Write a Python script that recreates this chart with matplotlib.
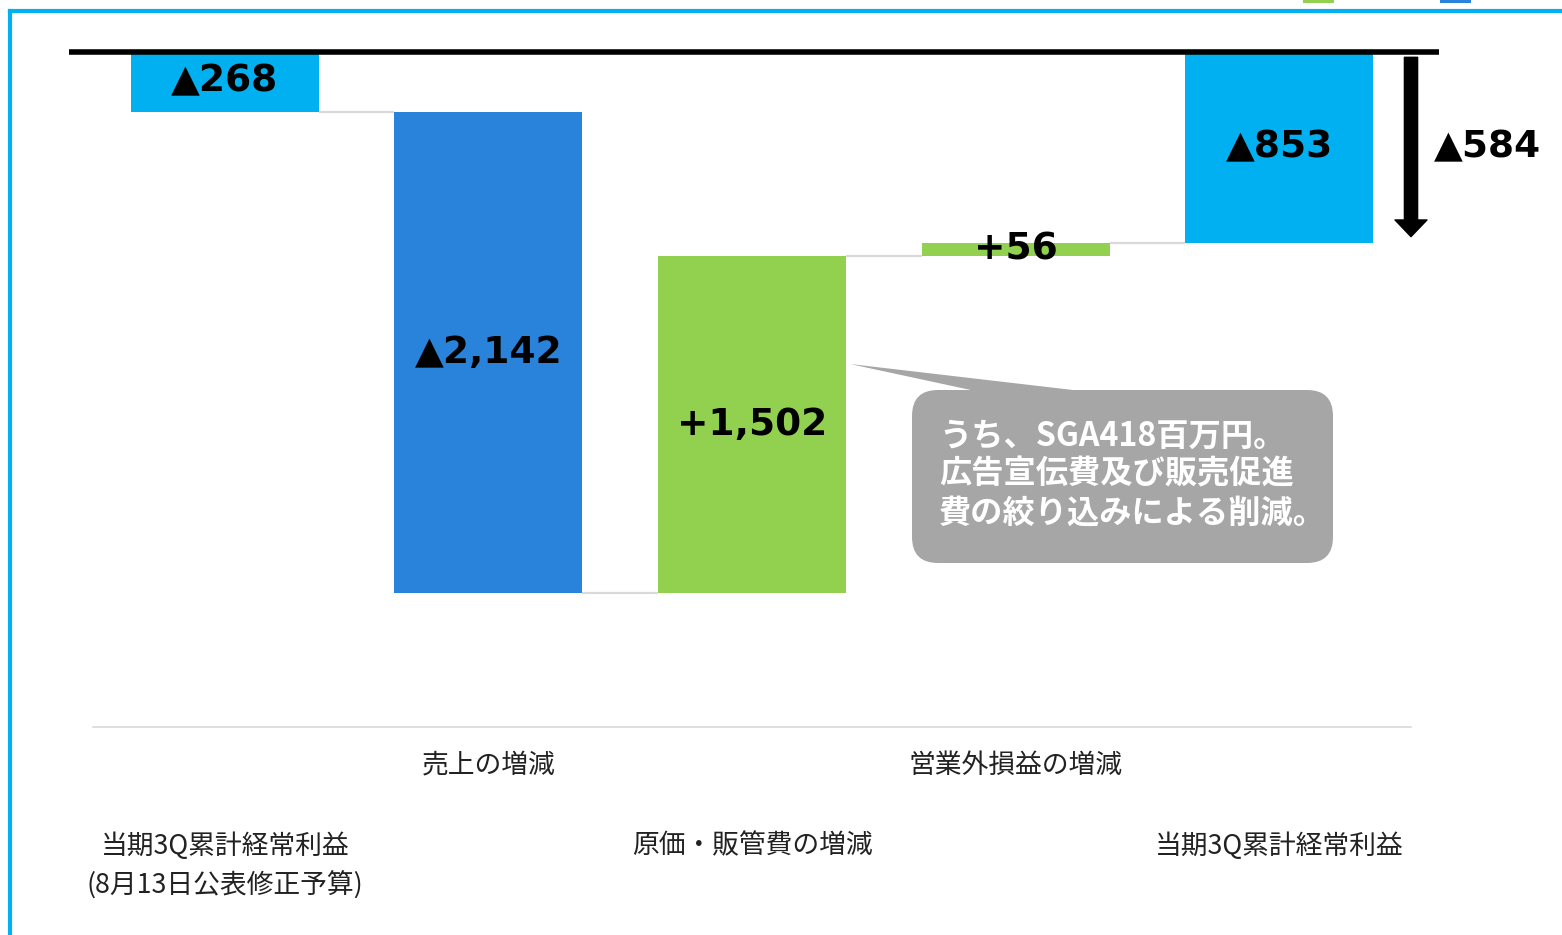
import matplotlib.pyplot as plt
import matplotlib.transforms as mtransforms
from matplotlib.patches import FancyBboxPatch, Polygon, Rectangle
from matplotlib.lines import Line2D

# data (百万円)
categories = [["当期3Q累計経常利益", "(8月13日公表修正予算)"],
              ["売上の増減"],
              ["原価・販管費の増減"],
              ["営業外損益の増減"],
              ["当期3Q累計経常利益"]]
budget = -268
deltas = [-2142, 1502, 56]
actual = -853
gap = -584
note_lines = ["うち、SGA418百万円。", "広告宣伝費及び販売促進", "費の絞り込みによる削減。"]

c_total = "#00B0F0"
c_down = "#2983DA"
c_up = "#92D050"

# waterfall geometry
bottoms = [0, budget]
heights = [budget]
level = budget
for d in deltas:
    heights.append(d)
    bottoms[-1] = level
    level += d
    bottoms.append(level)
bottoms = bottoms[:-1] + [0]
heights.append(actual)
colors = [c_total] + [c_down if d < 0 else c_up for d in deltas] + [c_total]
xs = list(range(len(heights)))
w = 0.713


def fmt(v):
    return ("▲" if v < 0 else "+") + f"{abs(v):,}"


fig = plt.figure(figsize=(15.62, 9.35), dpi=100)
ax = fig.add_axes([93 / 1562, (935 - 727) / 935, 1318 / 1562, 687 / 935])
ax.set_xlim(-0.5, 4.5)
ax.set_ylim(-3005, 52)

ax.bar(xs, heights, bottom=bottoms, width=w, color=colors, zorder=2)

# connectors
ends = [b + h for b, h in zip(bottoms, heights)]
for i in range(len(xs) - 1):
    ax.plot([xs[i] + w / 2, xs[i + 1] - w / 2], [ends[i], ends[i]],
            color="#D9D9D9", lw=1.6, zorder=1, solid_capstyle="butt")

# value labels
for x, b, h in zip(xs, bottoms, heights):
    ax.text(x, b + h / 2, fmt(h), ha="center", va="center", fontsize=27,
            fontweight="bold", color="black", family="DejaVu Sans", zorder=3)

# zero line
ax.axhline(0, xmin=-0.018, xmax=1.021, color="black", lw=4, clip_on=False,
           zorder=4, solid_capstyle="butt")

# difference arrow
ax.annotate("", xy=(4.5, actual + 30), xytext=(4.5, -25),
            arrowprops=dict(width=9.5, headwidth=23, headlength=12, color="black", shrink=0),
            annotation_clip=False)
ax.text(4.585, actual / 2, fmt(gap), ha="left", va="center", fontsize=27,
        fontweight="bold", family="DejaVu Sans", clip_on=False)

for s in ["top", "right", "left"]:
    ax.spines[s].set_visible(False)
ax.spines["bottom"].set_color("#D9D9D9")
ax.spines["bottom"].set_linewidth(1.2)
ax.set_xticks([])
ax.set_yticks([])
ax.patch.set_alpha(0)

# overlay in pixel coordinates for decorations
ov = fig.add_axes([0, 0, 1, 1])
ov.set_xlim(0, 1562)
ov.set_ylim(935, 0)
ov.axis("off")

# category labels, staggered
tr = mtransforms.blended_transform_factory(ax.transData, ov.transData)
for i, lines in enumerate(categories):
    y0 = 765 if i % 2 == 1 else 846
    for j, line in enumerate(lines):
        ov.text(xs[i], y0 + 40 * j, line, transform=tr, ha="center", va="center",
                fontsize=19.3, family=["Noto Sans CJK JP", "DejaVu Sans"], color="#222222")

# callout
tail = Polygon([(850, 364), (980, 392), (1090, 392)], closed=True, color="#A6A6A6", lw=0)
ov.add_patch(tail)
box = FancyBboxPatch((912 + 24, 390 + 24), 421 - 48, 173 - 48,
                     boxstyle="round,pad=24,rounding_size=26", color="#A6A6A6", lw=0)
ov.add_patch(box)
for j, line in enumerate(note_lines):
    ov.text(939, 436 + 38.5 * j, line, ha="left", va="center", fontsize=23.2,
            fontweight="bold", color="white", family=["Noto Sans CJK JP", "DejaVu Sans"])

# frame and clipped legend markers
ov.add_line(Line2D([10, 10], [11, 935], color="#00B0F0", lw=3))
ov.add_line(Line2D([10, 1562], [11, 11], color="#00B0F0", lw=3))
ov.add_patch(Rectangle((1303, 0), 31, 3, color=c_up, lw=0))
ov.add_patch(Rectangle((1440, 0), 31, 3, color=c_down, lw=0))

fig.savefig("out.png", dpi=100)
